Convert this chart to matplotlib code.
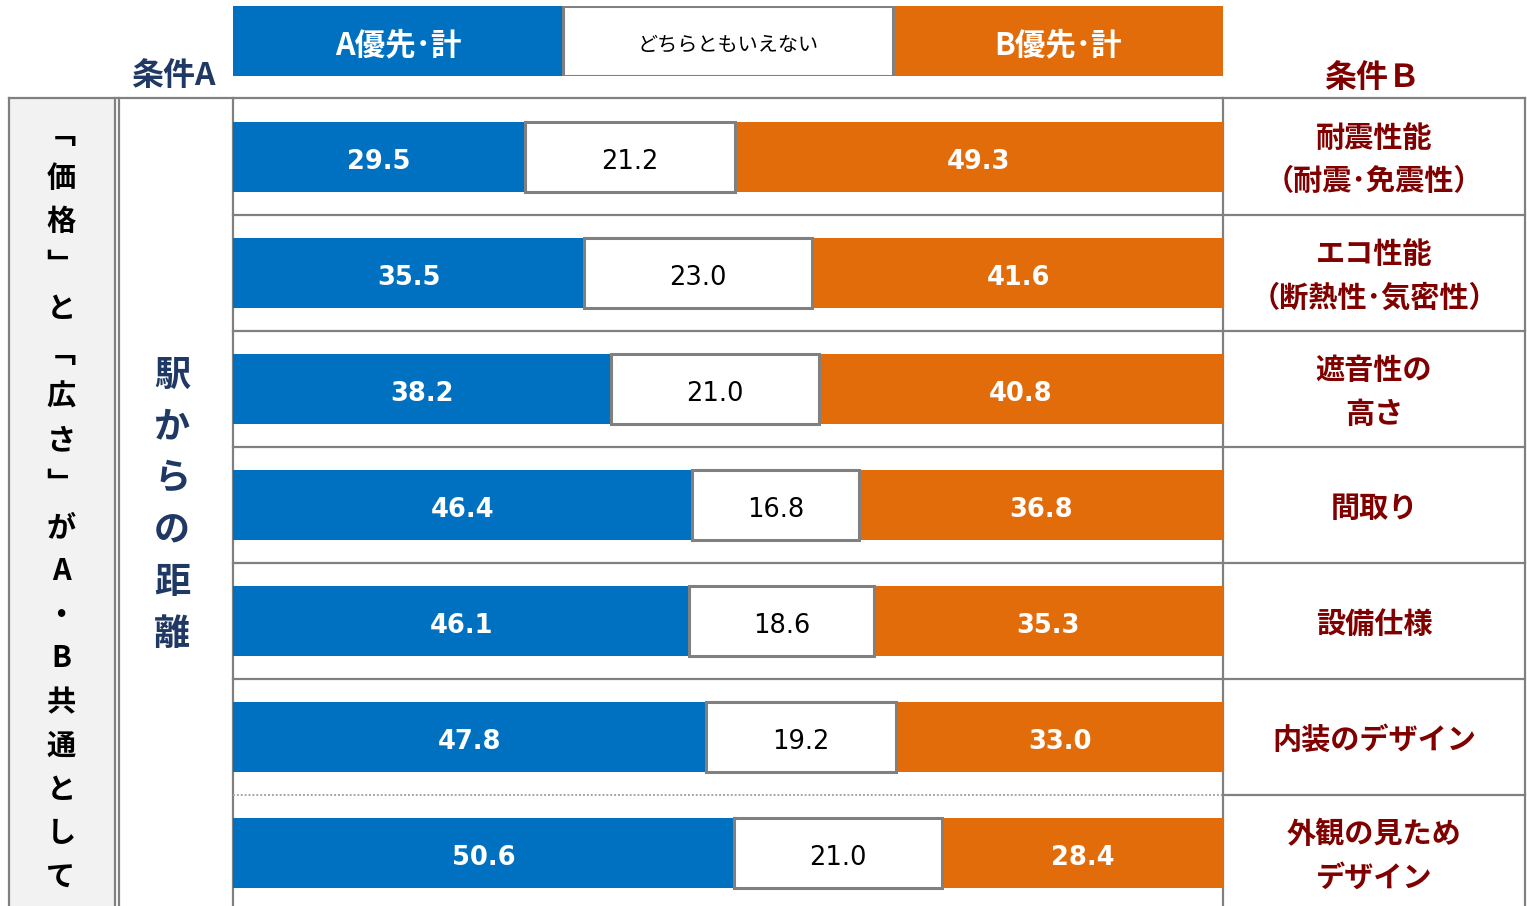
import numpy as np
import matplotlib
matplotlib.use("Agg")
import matplotlib.pyplot as plt
from matplotlib.lines import Line2D
from matplotlib.patches import Rectangle
from matplotlib.transforms import blended_transform_factory

plt.rcParams['font.family'] = ['Noto Sans CJK JP', 'DejaVu Sans']

# data
items = [
    "耐震性能\n（耐震･免震性）",
    "エコ性能\n（断熱性･気密性）",
    "遮音性の\n高さ",
    "間取り",
    "設備仕様",
    "内装のデザイン",
    "外観の見ため\nデザイン",
]
a_total = [29.5, 35.5, 38.2, 46.4, 46.1, 47.8, 50.6]
neutral = [21.2, 23.0, 21.0, 16.8, 18.6, 19.2, 21.0]
b_total = [49.3, 41.6, 40.8, 36.8, 35.3, 33.0, 28.4]
series_names = ["A優先･計", "どちらともいえない", "B優先･計"]
cond_a_label = "条件A"
cond_b_label = "条件Ｂ"
cond_a_item = "駅からの距離"
common_note = "「価格」と「広さ」がA・B共通として"

BLUE = "#0070C0"
ORANGE = "#E36C0A"
GRID = "#808080"
NAVY = "#1F3864"
DARKRED = "#800000"

W, H = 1527, 906
fig = plt.figure(figsize=(W / 100, H / 100), dpi=100)

# full-figure layer in pixel units for the table frame
frame = fig.add_axes([0, 0, 1, 1])
frame.set_xlim(0, W)
frame.set_ylim(H, 0)
frame.axis("off")

frame.add_patch(Rectangle((9, 98), 106, H - 98, facecolor="#F2F2F2", edgecolor="none"))
lw = 1.6
frame.add_line(Line2D([9, 1525], [98, 98], color=GRID, lw=lw))
for x in [9, 115, 119, 233, 1223, 1525]:
    frame.add_line(Line2D([x, x], [98, H], color=GRID, lw=lw))

# vertical texts on the left
chars = common_note.replace("「", "﹁").replace("」", "﹂")
y0, y1 = 134, 877
step = (y1 - y0) / (len(chars) - 1)
for i, ch in enumerate(chars):
    frame.text(61, y0 + i * step, ch, ha="center", va="center",
               fontsize=21, fontweight="bold", color="black")

y0, step = 375, 52
for i, ch in enumerate(cond_a_item):
    frame.text(172, y0 + i * step, ch, ha="center", va="center",
               fontsize=26, fontweight="bold", color=NAVY)

frame.text(173, 76, cond_a_label, ha="center", va="center",
           fontsize=23, fontweight="bold", color=NAVY)
frame.text(1372, 78, cond_b_label, ha="center", va="center",
           fontsize=23, fontweight="bold", color=DARKRED)

# header legend
hdr = fig.add_axes([233 / W, 1 - 76 / H, 990 / W, 70 / H])
hdr.set_xlim(-0.5, 2.5)
hdr.set_ylim(1, 0)
hdr.axis("off")
hdr.bar([0, 2], [1, 1], width=1, color=[BLUE, ORANGE], edgecolor="none")
hdr.bar([1], [1], width=1, color="white", edgecolor=GRID, linewidth=2.2)
hdr.text(0, 0.56, series_names[0], ha="center", va="center", color="white",
         fontsize=22, fontweight="bold")
hdr.text(1, 0.56, series_names[1], ha="center", va="center", color="black",
         fontsize=14.5)
hdr.text(2, 0.56, series_names[2], ha="center", va="center", color="white",
         fontsize=22, fontweight="bold")

# bars
ax = fig.add_axes([233 / W, 1 - 911 / H, 990 / W, 812 / H])
ax.patch.set_alpha(0)
n = len(items)
y = np.arange(n) + 0.5
a = np.array(a_total)
m = np.array(neutral)
b = np.array(b_total)
ax.barh(y, a, height=0.6, color=BLUE, zorder=2)
ax.barh(y, b, left=a + m, height=0.6, color=ORANGE, zorder=2)
ax.barh(y, m, left=a, height=0.6, color="white", edgecolor=GRID,
        linewidth=2.2, zorder=3)
ax.set_xlim(0, 100)
ax.set_ylim(n, 0)
ax.axis("off")

for yi, av, mv, bv in zip(y, a, m, b):
    ax.text(av / 2, yi + 0.045, f"{av:.1f}", ha="center", va="center",
            color="white", fontsize=18.5, fontweight="bold",
            family="DejaVu Sans", zorder=4)
    ax.text(av + mv / 2, yi + 0.045, f"{mv:.1f}", ha="center", va="center",
            color="black", fontsize=18.5, family="DejaVu Sans", zorder=4)
    ax.text(av + mv + bv / 2, yi + 0.045, f"{bv:.1f}", ha="center",
            va="center", color="white", fontsize=18.5, fontweight="bold",
            family="DejaVu Sans", zorder=4)

# row separators: bar area + right column
tr = blended_transform_factory(fig.transFigure, ax.transData)
for k in range(1, n):
    if k == n - 1:
        fig.add_artist(Line2D([233 / W, 1223 / W], [k, k], transform=tr,
                              color="#A6A6A6", lw=1.4, ls=(0, (1, 1))))
    else:
        fig.add_artist(Line2D([233 / W, 1223 / W], [k, k], transform=tr,
                              color=GRID, lw=lw))
    fig.add_artist(Line2D([1223 / W, 1525 / W], [k, k], transform=tr,
                          color=GRID, lw=lw))

for yi, label in zip(y, items):
    fig.text(1374 / W, yi + 0.025, label, transform=tr, ha="center",
             va="center", fontsize=21, fontweight="bold", color=DARKRED,
             linespacing=1.55)

fig.savefig("out.png", dpi=100)
